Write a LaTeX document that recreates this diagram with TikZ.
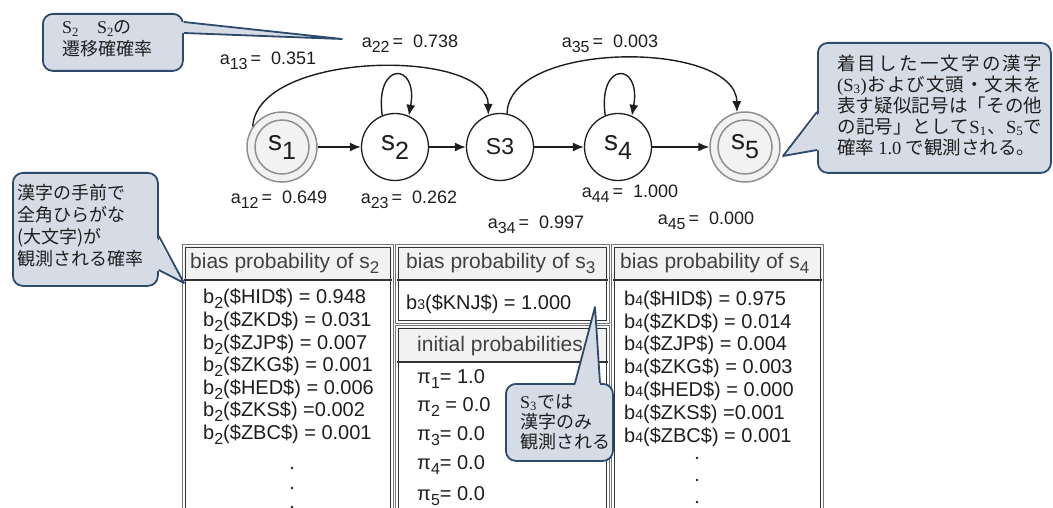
\documentclass[tikz,border=0pt]{standalone}
\usepackage{fontspec}
\setmainfont{Liberation Sans}
\newfontfamily\cjk{Noto Sans CJK JP}
\newfontfamily\tnr{Liberation Serif}
\usetikzlibrary{arrows.meta,calc}

\definecolor{ink}{HTML}{1E1E1E}
\definecolor{hdtext}{HTML}{404040}
\definecolor{hdfill}{HTML}{F2F2F2}
\definecolor{callfill}{HTML}{D6DCE5}
\definecolor{callline}{HTML}{2E4A6B}
\definecolor{ring}{HTML}{8F8F8F}

\newcommand\fsz[2]{\fontsize{#1pt}{#2pt}\selectfont}
% state names: large s with a lowered index
\newcommand\slab[1]{{\fsz{28}{28}s\raisebox{-9pt}{\fsz{25}{25}#1}}}
% transition probability labels
\newcommand\alab[2]{a\raisebox{-5pt}{\fsz{16}{16}#1}\,=\ \ #2}
% output probability entries
\newcommand\bsub[2]{b\raisebox{-5pt}{\fsz{16}{16}#1}#2}
\newcommand\bsml[2]{b{\fsz{14}{14}#1}#2}
\newcommand\pisub[2]{π\raisebox{-5pt}{\fsz{16}{16}#1}#2}
\newcommand\serifS[1]{{\tnr S\textsubscript{#1}}}
% justified callout line (characters separated by \hfill)
\newcommand\spreadline[1]{\makebox[205pt][s]{#1}}
% table frame: two thin lines around the box
\newcommand\tframe[4]{%
  \draw[tblouter] ({#1-1.5},{#2-1.5}) rectangle ({#3+1.5},{#4+1.5});
  \draw[tblinner] ({#1+1.5},{#2+1.5}) rectangle ({#3-1.5},{#4-1.5});}

\begin{document}
\begin{tikzpicture}[x=1pt,y=-1pt,
  every node/.style={inner sep=0pt, text=ink},
  hmmstate/.style={circle, draw=ink, line width=1.3pt, fill=white, minimum size=67pt},
  hmmfinal/.style={circle, draw=ring, line width=1.5pt, fill=hdfill, minimum size=70pt},
  hmmfinalin/.style={circle, draw=ring, line width=1.5pt, minimum size=54pt},
  trans/.style={-{Latex[length=11pt,width=9pt]}, draw=ink, line width=1.4pt},
  elab/.style={font=\fsz{18}{18}},
  tblouter/.style={draw=black!55, line width=1pt},
  tblinner/.style={draw=black!80, line width=1pt},
  tblhead/.style={fill=hdfill},
  tblrule/.style={draw=black!80, line width=2pt},
  hdrtxt/.style={anchor=west, text=hdtext, font=\fsz{21}{21}},
  rowtxt/.style={anchor=west, font=\fsz{20}{20}},
  pitxt/.style={anchor=west, font=\fsz{20}{20}},
  callbox/.style={rectangle, rounded corners=10pt, draw=callline, line width=1.8pt,
    fill=callfill, anchor=north west},
  tailline/.style={draw=callline, line width=1.8pt, line join=round},
  calltxt/.style={anchor=west, align=left, font=\cjk\fsz{18}{22}}
]
\useasboundingbox (0,0) rectangle (1053,508);
\clip (0,0) rectangle (1053,508);

% ---------- probability tables ----------
% output probabilities of s2
\fill[tblhead] (184,246) rectangle (392,280);
\tframe{184}{246}{392}{530}
\draw[tblrule] (184,280) -- (392,280);
\node[hdrtxt] (h2) at (190,263) {bias probability of s\raisebox{-5pt}{\fsz{17}{17}2}};
\node[rowtxt] (r21) at (203,299.0) {\bsub{2}{(\$HID\$) = 0.948}};
\node[rowtxt] (r22) at (203,321.6) {\bsub{2}{(\$ZKD\$) = 0.031}};
\node[rowtxt] (r23) at (203,344.2) {\bsub{2}{(\$ZJP\$) = 0.007}};
\node[rowtxt] (r24) at (203,366.8) {\bsub{2}{(\$ZKG\$) = 0.001}};
\node[rowtxt] (r25) at (203,389.4) {\bsub{2}{(\$HED\$) = 0.006}};
\node[rowtxt] (r26) at (203,412.0) {\bsub{2}{(\$ZKS\$) =0.002}};
\node[rowtxt] (r27) at (203,434.6) {\bsub{2}{(\$ZBC\$) = 0.001}};
\foreach \yy in {468,488,507} \fill[ink] (292,\yy) circle (1.4);

% output probabilities of s3
\fill[tblhead] (397,246) rectangle (608,280);
\tframe{397}{246}{608}{322}
\draw[tblrule] (397,280) -- (608,280);
\node[hdrtxt] (h3) at (406,263) {bias probability of s\raisebox{-5pt}{\fsz{17}{17}3}};
\node[rowtxt] (r31) at (406,304) {\bsml{3}{(\$KNJ\$) = 1.000}};

% initial probabilities
\fill[tblhead] (397,327) rectangle (608,362);
\tframe{397}{327}{608}{530}
\draw[tblrule] (397,362) -- (608,362);
\node[hdrtxt] (hpi) at (417,346) {initial probabilities};
\node[pitxt] (p1) at (417,379) {\pisub{1}{= 1.0}};
\node[pitxt] (p2) at (417,407) {\pisub{2}{ = 0.0}};
\node[pitxt] (p3) at (417,436) {\pisub{3}{= 0.0}};
\node[pitxt] (p4) at (417,465) {\pisub{4}{= 0.0}};
\node[pitxt] (p5) at (417,496) {\pisub{5}{= 0.0}};

% output probabilities of s4
\fill[tblhead] (613,246) rectangle (822,280);
\tframe{613}{246}{822}{530}
\draw[tblrule] (613,280) -- (822,280);
\node[hdrtxt] (h4) at (620,263) {bias probability of s\raisebox{-5pt}{\fsz{17}{17}4}};
\node[rowtxt] (r41) at (624,300.0) {\bsml{4}{(\$HID\$) = 0.975}};
\node[rowtxt] (r42) at (624,322.8) {\bsml{4}{(\$ZKD\$) = 0.014}};
\node[rowtxt] (r43) at (624,345.6) {\bsml{4}{(\$ZJP\$) = 0.004}};
\node[rowtxt] (r44) at (624,368.4) {\bsml{4}{(\$ZKG\$) = 0.003}};
\node[rowtxt] (r45) at (624,391.2) {\bsml{4}{(\$HED\$) = 0.000}};
\node[rowtxt] (r46) at (624,414.0) {\bsml{4}{(\$ZKS\$) =0.001}};
\node[rowtxt] (r47) at (624,436.8) {\bsml{4}{(\$ZBC\$) = 0.001}};
\foreach \yy in {458,480,502} \fill[ink] (697,\yy) circle (1.4);

% ---------- states ----------
\node[hmmfinal] (s1) at (282,147) {};
\node[hmmfinalin] (s1i) at (s1) {\slab{1}};
\node[hmmstate] (s2) at (395,147) {\slab{2}};
\node[hmmstate] (s3) at (500,147) {{\fsz{23}{23}S3}};
\node[hmmstate] (s4) at (618,147) {\slab{4}};
\node[hmmfinal] (s5) at (745,147) {};
\node[hmmfinalin] (s5i) at (s5) {\slab{5}};

% ---------- transitions ----------
\draw[trans] (s1) -- (s2);
\draw[trans] (s2) -- (s3);
\draw[trans] (s3) -- (s4);
\draw[trans] (s4) -- (s5);
% self loops (y axis points down, so upward angles are negative)
\draw[trans] (s2.112) .. controls +(-98:55) and +(-80:55) .. (s2.66);
\draw[trans] (s4.112) .. controls +(-98:55) and +(-80:55) .. (s4.66);
\draw[trans] (s1.145) .. controls (258,50) and (488,48) .. (s3.110);
\draw[trans] (s3.78) .. controls (508,40) and (736,40) .. (s5.103);

\node[elab] (l13) at (268,60.5) {\alab{13}{0.351}};
\node[elab] (l22) at (410,44) {\alab{22}{0.738}};
\node[elab] (l35) at (610,44) {\alab{35}{0.003}};
\node[elab] (l12) at (279,200) {\alab{12}{0.649}};
\node[elab] (l23) at (409,200) {\alab{23}{0.262}};
\node[elab] (l34) at (536,225) {\alab{34}{0.997}};
\node[elab] (l44) at (630,194) {\alab{44}{1.000}};
\node[elab] (l45) at (706,221) {\alab{45}{0.000}};

% ---------- callouts ----------
% transition S2 -> S2
\node[callbox, minimum width=140pt, minimum height=57pt] (cA) at (42,13) {};
\coordinate (tipA) at (342,39);
\fill[callfill] ($(cA.north east)+(-3,9)$) -- (tipA) -- ($(cA.north east)+(-3,20)$) -- cycle;
\draw[tailline] ($(cA.north east)+(0,9)$) -- (tipA) -- ($(cA.north east)+(0,20)$);
\node[calltxt] (tA) at (62,39) {\serifS{2}\hspace{18pt}\serifS{2}の\\遷移確確率};

% symbols observed in s1 and s5
\node[callbox, minimum width=233pt, minimum height=130pt] (cB) at (817,42) {};
\coordinate (tipB) at (783,156);
\fill[callfill] ($(cB.north west)+(3,70)$) -- (tipB) -- ($(cB.north west)+(3,108)$) -- cycle;
\draw[tailline] ($(cB.north west)+(0,70)$) -- (tipB) -- ($(cB.north west)+(0,108)$);
\node[calltxt, font=\cjk\fsz{18.5}{21}] (tB) at (837,105)
  {\spreadline{着\hfill 目\hfill し\hfill た\hfill 一\hfill 文\hfill 字\hfill の\hfill 漢\hfill 字}\\
   \spreadline{{\tnr(S\textsubscript{3})}\hfill お\hfill よ\hfill び\hfill 文\hfill 頭\hfill ・\hfill 文\hfill 末\hfill を}\\
   \spreadline{表\hfill す\hfill 疑\hfill 似\hfill 記\hfill 号\hfill は\hfill 「\hfill そ\hfill の\hfill 他}\\
   \spreadline{の\hfill 記\hfill 号\hfill 」\hfill と\hfill し\hfill て\hfill \serifS{1}\hfill 、\hfill \serifS{5}\hfill で}\\
   確率 {\tnr 1.0} で観測される。};

% output of s2
\node[callbox, minimum width=145pt, minimum height=113pt] (cC) at (12,172) {};
\coordinate (tipC) at (184,283);
\fill[callfill] ($(cC.north east)+(-3,64)$) -- (tipC) -- ($(cC.north east)+(-3,98)$) -- cycle;
\draw[tailline] ($(cC.north east)+(0,64)$) -- (tipC) -- ($(cC.north east)+(0,98)$);
\node[calltxt] (tC) at (17,225.5) {漢字の手前で\\全角ひらがな\\(大文字)が\\観測される確率};

% output of s3
\node[callbox, minimum width=107pt, minimum height=77pt] (cD) at (505,383) {};
\coordinate (tipD) at (595,307);
\fill[callfill] ($(cD.north west)+(70,3)$) -- (tipD) -- ($(cD.north west)+(95,3)$) -- cycle;
\draw[tailline] ($(cD.north west)+(70,0)$) -- (tipD) -- ($(cD.north west)+(95,0)$);
\node[calltxt, font=\cjk\fsz{18}{20}] (tD) at (520,422) {\serifS{3}では\\漢字のみ\\観測される};
\end{tikzpicture}
\end{document}
